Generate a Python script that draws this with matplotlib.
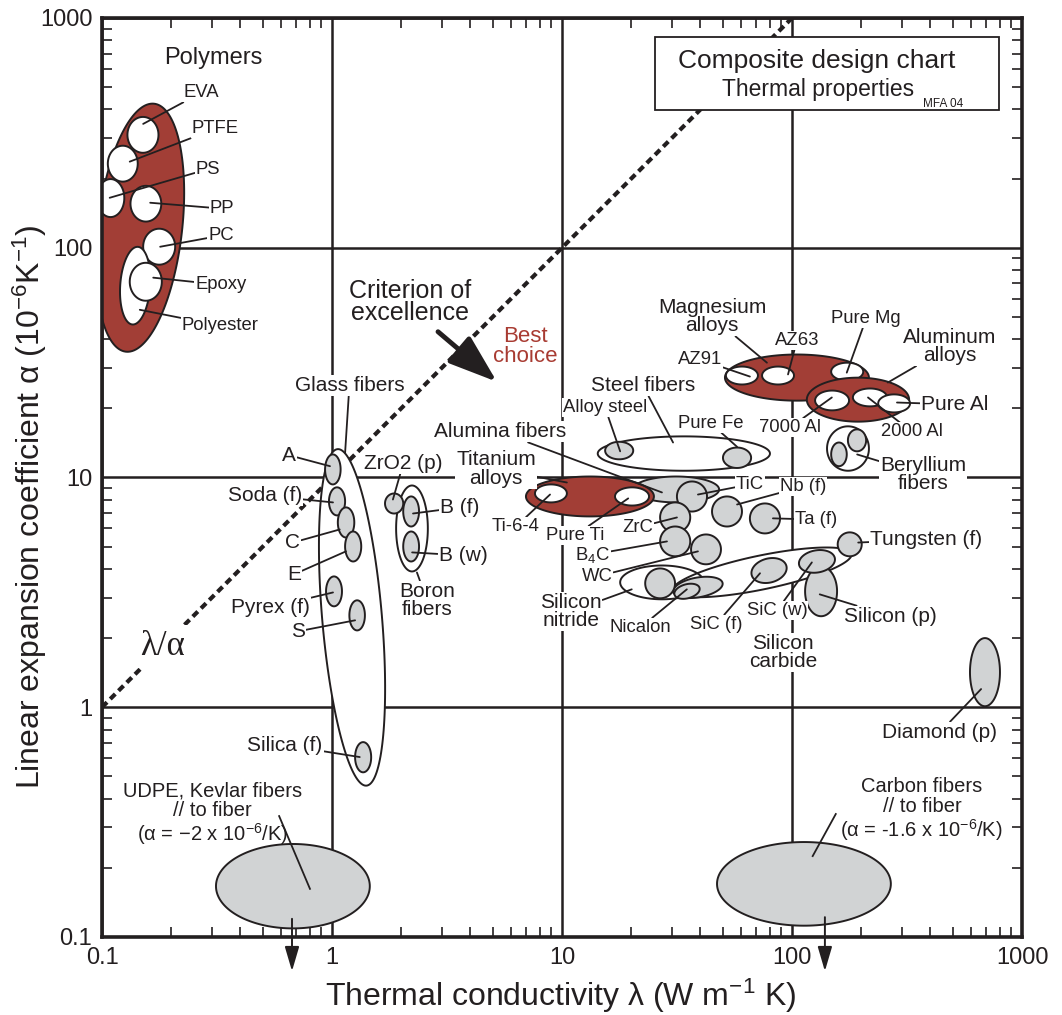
import numpy as np
import matplotlib
matplotlib.use("Agg")
import matplotlib.pyplot as plt
from matplotlib.patches import Rectangle
from matplotlib.ticker import NullFormatter, LogLocator

plt.rcParams["font.family"] = ["Liberation Sans", "DejaVu Sans"]
plt.rcParams["mathtext.fontset"] = "custom"
plt.rcParams["mathtext.rm"] = "Liberation Sans"
plt.rcParams["mathtext.it"] = "Liberation Sans:italic"
plt.rcParams["mathtext.bf"] = "Liberation Sans:bold"

# ── data: (name, lambda_lo, lambda_hi, alpha_lo, alpha_hi) ─────────────────────
POLYMER_ENV = ("Polymers", 0.096, 0.223, 35.0, 427.0)
POLYMERS = [
    ("EVA",       0.129, 0.176, 259, 371),
    ("PTFE",      0.106, 0.143, 194, 278),
    ("PS",        0.095, 0.125, 136, 199),
    ("PP",        0.133, 0.181, 130, 186),
    ("PC",        0.151, 0.208, 84.4, 121),
    ("Polyester", 0.120, 0.162, 46.3, 101),
    ("Epoxy",     0.132, 0.182, 58.8, 86.0),
]

GLASS_ENV = ("Glass fibers", 0.906, 1.648, 0.453, 13.37)
GLASS = [
    ("A",      0.933, 1.09, 9.33, 12.6),
    ("Soda",   0.970, 1.14, 6.84, 9.06),
    ("C",      1.06,  1.25, 5.48, 7.41),
    ("E",      1.14,  1.34, 4.31, 5.82),
    ("Pyrex",  0.942, 1.105, 2.75, 3.71),
    ("S",      1.19,  1.39, 2.16, 2.92),
    ("Silica", 1.26,  1.48, 0.521, 0.705),
]

BORON_ENV = ("Boron fibers", 1.90, 2.61, 3.90, 9.23)
BORON = [("B (f)", 2.04, 2.39, 6.12, 8.27), ("B (w)", 2.04, 2.39, 4.31, 5.82)]

STEEL_ENV = ("Steel fibers", 14.3, 80.2, 10.7, 15.1)
STEEL = [("Alloy steel", 15.4, 20.4, 12.0, 14.3), ("Pure Fe", 50.1, 66.4, 11.0, 13.5)]

TITANIUM_ENV = ("Titanium alloys", 6.97, 25.1, 6.77, 10.1)
TITANIUM = [("Ti-6-4", 7.63, 10.5, 7.79, 9.33), ("Pure Ti", 17.0, 23.9, 7.55, 9.06)]

MAGNESIUM_ENV = ("Magnesium alloys", 51.1, 216, 21.6, 34.3)
MAGNESIUM = [
    ("AZ91",    51.6, 71.1, 25.4, 30.4),
    ("AZ63",    74.1, 102,  25.4, 30.4),
    ("Pure Mg", 148,  204,  26.4, 31.6),
]

ALUMINUM_ENV = ("Aluminum alloys", 116, 323, 17.5, 27.2)
ALUMINUM = [
    ("7000 Al", 126, 177, 19.6, 23.9),
    ("2000 Al", 184, 259, 20.4, 24.4),
    ("Pure Al", 237, 326, 19.2, 23.0),
]

BERYLLIUM_ENV = ("Beryllium fibers", 142, 216, 10.7, 16.7)
BERYLLIUM = [("Be 1", 148, 173, 11.2, 14.2), ("Be 2", 175, 210, 13.0, 16.2)]

SI3N4_ENV = ("Silicon nitride", 17.9, 41.4, 2.95, 4.14)
SI3N4 = [("Si3N4", 23.0, 31.0, 2.98, 4.02)]

SIC_ENV = ("Silicon carbide", 29.6, 185, 3.26, 4.58)
SIC = [
    ("Nicalon",   30.4, 50.1, 3.01, 3.67),
    ("Nicalon 2", 30.7, 39.8, 2.98, 3.43),
    ("SiC (f)",   66.4, 95.1, 3.49, 4.44),
    ("SiC (w)",   107,  154,  3.86, 4.82),
]

SINGLES = [
    ("ZrO2 (p)",    1.70, 2.04, 6.97, 8.52),
    ("Alumina",     20.4, 48.2, 7.79, 10.1),
    ("TiC",         31.6, 42.7, 7.11, 9.61),
    ("ZrC",         26.7, 36.1, 5.77, 7.79),
    ("Nb (f)",      44.9, 60.6, 6.12, 8.27),
    ("Ta (f)",      65.6, 88.7, 5.71, 7.71),
    ("B4C",         26.7, 36.1, 4.54, 6.12),
    ("WC",          36.4, 49.1, 4.19, 5.65),
    ("Tungsten",    158,  201,  4.54, 5.77),
    ("Silicon (p)", 114,  157,  2.49, 4.10),
    ("Diamond (p)", 594,  802,  1.01, 2.00),
    ("UDPE",        0.313, 1.46, 0.109, 0.254),
    ("Carbon",      47.2, 269,  0.112, 0.259),
]

# tilt of the ellipse axes (degrees, log-log space)
TILT = {"Polymers": -6.5, "Polyester": -4, "Glass fibers": 4.9,
        "Silicon carbide": 11.7, "Nicalon": 10, "Nicalon 2": 15,
        "SiC (f)": 15, "SiC (w)": 10}

# negative alpha materials: arrows point off the chart
NEG_ALPHA_LAM = [0.670, 139]
NEG_ALPHA_TOP = [0.120, 0.122]
NEG_ALPHA_END = [0.071, 0.071]

# criterion of excellence guideline  lambda/alpha = const
CRIT_LAM = [0.1, 100]
CRIT_ALPHA = [1, 1000]

DECADES = [0.1, 1, 10, 100, 1000]
DECADE_LABELS = ["0.1", "1", "10", "100", "1000"]

# labels: (text, text_lam, text_alpha, leader_lam, leader_alpha)
LABELS = [
    ("Polymers", 0.304, 670, None, None),
    ("EVA", 0.269, 472, 0.151, 346),
    ("PTFE", 0.310, 329, 0.132, 237),
    ("PS", 0.289, 220, 0.108, 165),
    ("PP", 0.333, 148, 0.162, 157),
    ("PC", 0.329, 113, 0.179, 101),
    ("Epoxy", 0.329, 69.0, 0.167, 74.1),
    ("Polyester", 0.326, 45.8, 0.146, 53.7),
    ("Glass fibers", 1.19, 25.1, 1.14, 12.8),
    ("A", 0.650, 12.5, 0.980, 11.2),
    ("Soda (f)", 0.51, 8.35, 1.01, 7.79),
    ("C", 0.676, 5.21, 1.08, 5.94),
    ("E", 0.684, 3.79, 1.15, 4.77),
    ("Pyrex (f)", 0.54, 2.72, 1.01, 3.16),
    ("S", 0.711, 2.14, 1.26, 2.39),
    ("Silica (f)", 0.625, 0.684, 1.32, 0.607),
    ("ZrO2 (p)", 2.04, 11.5, 1.84, 8.02),
    ("B (f)", 3.60, 7.41, 2.25, 6.97),
    ("B (w)", 3.71, 4.58, 2.23, 4.72),
    ("Boron\nfibers", 2.59, 2.92, 2.34, 3.86),
    ("Titanium\nalloys", 5.16, 10.9, 10.5, 9.51),
    ("Ti-6-4", 6.31, 6.12, 8.87, 8.43),
    ("Pure Ti", 11.4, 5.60, 19.4, 8.11),
    ("Alumina fibers", 5.37, 15.8, 27.2, 8.61),
    ("Steel fibers", 22.5, 25.1, 30.4, 14.2),
    ("Alloy steel", 15.4, 20.1, 17.9, 13.0),
    ("Pure Fe", 44.4, 17.2, 57.7, 13.6),
    ("Magnesium\nalloys", 44.9, 50.1, 77.8, 31.6),
    ("AZ63", 105, 39.4, 96.1, 28.1),
    ("AZ91", 39.8, 32.6, 65.6, 27.5),
    ("Pure Mg", 210, 49.1, 173, 28.6),
    ("Aluminum\nalloys", 486, 37.2, 261, 25.9),
    ("Pure Al", 511, 20.8, 286, 21.2),
    ("7000 Al", 98.0, 16.5, 149, 22.3),
    ("2000 Al", 332, 15.8, 214, 22.3),
    ("Beryllium\nfibers", 372, 10.3, 192, 12.6),
    ("TiC", 65.6, 9.33, 39.0, 8.43),
    ("Nb (f)", 112, 9.14, 57.7, 7.63),
    ("Ta (f)", 127, 6.56, 82.6, 6.64),
    ("ZrC", 21.4, 6.07, 31.6, 6.70),
    ("B$_4$C", 13.6, 4.62, 28.6, 5.27),
    ("WC", 14.2, 3.71, 39.0, 4.77),
    ("Silicon\nnitride", 10.9, 2.61, 20.1, 3.26),
    ("Nicalon", 22.0, 2.23, 34.9, 3.26),
    ("SiC (f)", 46.8, 2.30, 72.6, 3.83),
    ("SiC (w)", 86.1, 2.64, 122, 4.27),
    ("Silicon (p)", 269, 2.49, 132, 3.10),
    ("Tungsten (f)", 383, 5.37, 194, 5.21),
    ("Silicon\ncarbide", 91.4, 1.73, None, None),
    ("Diamond (p)", 440, 0.778, 664, 1.20),
]
SMALL = {"EVA", "PTFE", "PS", "PP", "PC", "Epoxy", "Polyester", "Ti-6-4",
         "Pure Ti", "Alloy steel", "Pure Fe", "AZ91", "AZ63", "Pure Mg",
         "7000 Al", "2000 Al", "TiC", "Nb (f)", "Ta (f)", "ZrC", "B$_4$C",
         "WC", "Nicalon", "SiC (f)", "SiC (w)"}

INK = "#231f20"
RED = "#a23e36"
GREY = "#d1d3d4"
RED_TEXT = "#a83b32"


def ellipse_xy(shape, n=160):
    name, l0, l1, a0, a1 = shape
    cx = (np.log10(l0) + np.log10(l1)) / 2
    cy = (np.log10(a0) + np.log10(a1)) / 2
    ra = (np.log10(l1) - np.log10(l0)) / 2
    rb = (np.log10(a1) - np.log10(a0)) / 2
    th = np.radians(TILT.get(name, 0.0))
    t = np.linspace(0, 2 * np.pi, n)
    u, v = ra * np.cos(t), rb * np.sin(t)
    x = cx + u * np.cos(th) - v * np.sin(th)
    y = cy + u * np.sin(th) + v * np.cos(th)
    return 10 ** x, 10 ** y


fig = plt.figure(figsize=(10.62, 10.15), dpi=100)
ax = fig.add_axes([0.09605, 0.07685, 0.86629, 0.90542])
ax.set_xscale("log")
ax.set_yscale("log")
ax.set_xlim(0.1, 1000)
ax.set_ylim(0.1, 1000)

# ── envelopes / bubbles ───────────────────────────────────────────────────────
EDGE = 1.4
white_families = [(GLASS_ENV, GLASS), (BORON_ENV, BORON), (STEEL_ENV, STEEL),
                  (BERYLLIUM_ENV, BERYLLIUM), (SIC_ENV, SIC), (SI3N4_ENV, SI3N4)]
for env, _ in white_families:
    x, y = ellipse_xy(env)
    ax.fill(x, y, facecolor="white", edgecolor="none", zorder=2)
    ax.fill(x, y, facecolor="none", edgecolor=INK, lw=EDGE, zorder=2.1)

z = 3.0
for shape in SINGLES + [m for _, mem in white_families for m in mem]:
    x, y = ellipse_xy(shape)
    ax.fill(x, y, facecolor=GREY, edgecolor=INK, lw=EDGE, zorder=z)
    z += 0.01

z = 4.0
for env, mem in [(POLYMER_ENV, POLYMERS), (TITANIUM_ENV, TITANIUM),
                 (MAGNESIUM_ENV, MAGNESIUM), (ALUMINUM_ENV, ALUMINUM)]:
    x, y = ellipse_xy(env)
    ax.fill(x, y, facecolor=RED, edgecolor=INK, lw=EDGE, zorder=z)
    z += 0.01
    for m in mem:
        x, y = ellipse_xy(m)
        ax.fill(x, y, facecolor="white", edgecolor=INK, lw=EDGE, zorder=z)
        z += 0.01

# arrows for negative expansion
for lam, top, end in zip(NEG_ALPHA_LAM, NEG_ALPHA_TOP, NEG_ALPHA_END):
    ax.annotate("", xy=(lam, end), xytext=(lam, top), annotation_clip=False,
                arrowprops=dict(arrowstyle="-|>,head_length=0.75,head_width=0.22",
                                color=INK, lw=1.4, mutation_scale=20,
                                shrinkA=0, shrinkB=0), zorder=6)

# criterion line
ax.plot(CRIT_LAM, CRIT_ALPHA, color=INK, lw=3, ls=(0, (1.7, 1.1)),
        dash_capstyle="butt", zorder=1.5)

# ── labels ────────────────────────────────────────────────────────────────────
for txt, tx, ty, ex, ey in LABELS:
    fs = 13.3 if txt in SMALL else 15
    if txt == "Polymers":
        fs = 17
    kw = dict(ha="center", va="center", fontsize=fs, color=INK, zorder=6,
              linespacing=0.95,
              bbox=dict(boxstyle="square,pad=0.05", fc="white", ec="none"))
    if ex is None:
        ax.text(tx, ty, txt, **kw)
    else:
        ax.annotate(txt, xy=(ex, ey), xytext=(tx, ty),
                    arrowprops=dict(arrowstyle="-", color=INK, lw=1.3,
                                    shrinkA=0, shrinkB=0), **kw)

ax.text(0.301, 0.343, "UDPE, Kevlar fibers\n// to fiber\n(α = −2 x 10$^{-6}$/K)",
        ha="center", va="center", fontsize=14.5, color=INK, linespacing=1.05, zorder=6)
ax.plot([0.589, 0.802], [0.336, 0.162], color=INK, lw=1.3, zorder=7)
ax.text(367, 0.357, "Carbon fibers\n// to fiber\n(α = -1.6 x 10$^{-6}$/K)",
        ha="center", va="center", fontsize=14.5, color=INK, linespacing=1.05, zorder=6)
ax.plot([155, 123], [0.343, 0.225], color=INK, lw=1.3, zorder=7)

ax.text(2.18, 58.2, "Criterion of\nexcellence", ha="center", va="center",
        fontsize=18, color=INK, linespacing=0.9, zorder=6)
ax.annotate("", xy=(5.21, 26.1), xytext=(2.89, 43.1),
            arrowprops=dict(arrowstyle="-|>,head_length=1.2,head_width=0.42",
                            color=INK, lw=3.5, mutation_scale=25,
                            shrinkA=0, shrinkB=0), zorder=7)
ax.text(6.90, 37.2, "Best\nchoice", ha="center", va="center", fontsize=16,
        color=RED_TEXT, linespacing=0.9, zorder=6)
ax.text(0.184, 1.84, "λ/α", ha="center", va="center", fontsize=25, color=INK,
        family=["Liberation Serif", "DejaVu Serif"], zorder=6,
        bbox=dict(boxstyle="square,pad=0.15", fc="white", ec="none"))

# title box
ax.add_patch(Rectangle((0.601, 0.900), 0.374, 0.079, transform=ax.transAxes,
                       fc="white", ec=INK, lw=1.3, zorder=7))
ax.text(0.777, 0.953, "Composite design chart", transform=ax.transAxes,
        ha="center", va="center", fontsize=19, color=INK, zorder=8)
ax.text(0.778, 0.922, "Thermal properties", transform=ax.transAxes,
        ha="center", va="center", fontsize=16.5, color=INK, zorder=8)
ax.text(0.936, 0.906, "MFA 04", transform=ax.transAxes,
        ha="right", va="center", fontsize=8.5, color=INK, zorder=8)

# ── axes styling ──────────────────────────────────────────────────────────────
ax.set_xticks(DECADES)
ax.set_xticklabels(DECADE_LABELS)
ax.set_yticks(DECADES)
ax.set_yticklabels(DECADE_LABELS)
ax.xaxis.set_minor_locator(LogLocator(base=10, subs=np.arange(2, 10)))
ax.yaxis.set_minor_locator(LogLocator(base=10, subs=np.arange(2, 10)))
ax.xaxis.set_minor_formatter(NullFormatter())
ax.yaxis.set_minor_formatter(NullFormatter())
ax.tick_params(which="major", length=0, labelsize=17, pad=7, colors=INK)
ax.tick_params(which="minor", direction="in", length=7, width=1.2,
               top=True, right=True, colors=INK)
ax.grid(True, which="major", color=INK, lw=1.8)
ax.set_axisbelow(True)
for sp in ax.spines.values():
    sp.set_linewidth(2.6)
    sp.set_color(INK)
    sp.set_zorder(9)

ax.text(0.498, -0.064, "Thermal conductivity λ (W m$^{-1}$ K)", transform=ax.transAxes,
        ha="center", va="center", fontsize=23, color=INK)
ax.text(-0.078, 0.468, "Linear expansion coefficient α (10$^{-6}$K$^{-1}$)",
        transform=ax.transAxes, rotation=90, ha="center", va="center",
        fontsize=23, color=INK)

fig.savefig("out.png", dpi=100)
